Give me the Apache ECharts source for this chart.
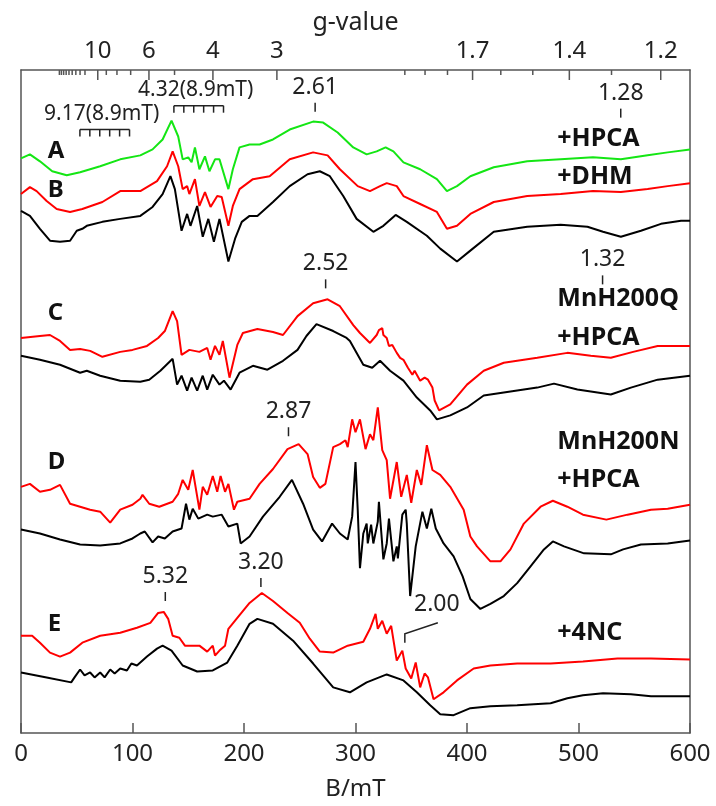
<!DOCTYPE html>
<html style="height: 100%">
<head>
<meta charset="utf-8">
<script type="text/javascript" src="https://cdn.jsdelivr.net/npm/echarts@6/dist/echarts.min.js"></script>
</head>
<body style="height: 100%; margin: 0; background: #fff">
<div id="container" style="width: 716px; height: 806px"></div>
<script type="text/javascript">
// hv/muB in mT, puts the g ticks where the spectrometer put them
var HV_MUB = 688.5;

var gMajor = [10, 6, 4, 3, 1.7, 1.4, 1.2];
var gMinor = [20, 19, 18, 17, 16, 15, 14, 13, 12, 9, 8, 7, 5, 2.0, 1.9, 1.8, 1.6, 1.5, 1.3];

// spectra, [B/mT, intensity + offset]
var specA_HPCA = [[0,579],[8,583],[17,576],[28,566],[41,562],[53,565],[71,571],[89,578],[107,582],[118,588],[127,598],[135,617],[141,601],[145,578],[150,580],[153,575],[156,590],[160,568],[165,581],[169,566],[174,578],[178,578],[186,548],[190,568],[196,590],[205,593],[214,593],[226,598],[241,608],[262,616],[271,615],[284,605],[298,590],[310,583],[319,586],[327,590],[334,586],[343,575],[358,568],[373,558],[382,546],[391,551],[403,561],[424,570],[454,576],[484,578],[513,580],[538,578],[562,582],[580,585],[600,588]];
var specB_DHM = [[0,543],[8,550],[14,546],[23,536],[32,528],[44,525],[55,528],[73,535],[89,546],[107,546],[122,556],[131,571],[136,586],[141,571],[145,548],[149,551],[151,543],[156,558],[160,531],[165,545],[170,530],[176,541],[180,540],[186,511],[190,531],[196,548],[208,558],[223,561],[241,578],[262,585],[275,582],[286,568],[302,551],[313,546],[322,551],[328,554],[337,551],[343,541],[358,533],[373,525],[382,508],[391,511],[403,523],[424,535],[454,541],[484,543],[513,546],[538,545],[562,548],[580,551],[600,554]];
var specAB_ref = [[0,526],[8,521],[17,508],[26,496],[35,495],[44,496],[50,506],[55,508],[59,511],[73,515],[89,518],[107,521],[118,530],[127,543],[134,561],[138,548],[144,506],[149,523],[152,511],[158,531],[163,500],[168,518],[173,495],[178,518],[186,475],[192,498],[198,515],[205,521],[212,521],[226,535],[241,551],[257,563],[268,566],[277,561],[289,541],[301,518],[316,505],[325,511],[336,522],[346,515],[364,501],[376,488],[391,475],[403,486],[424,505],[454,510],[484,512],[508,510],[522,505],[538,500],[556,506],[574,513],[592,516],[600,516]];
var specC_HPCA = [[0,398],[17,400],[26,401],[35,395],[44,386],[53,387],[62,385],[73,379],[89,384],[100,386],[113,390],[123,398],[129,405],[136,425],[140,415],[144,381],[151,386],[160,384],[167,388],[170,376],[174,390],[178,381],[181,395],[187,358],[194,391],[199,403],[212,407],[226,404],[235,401],[248,420],[262,433],[275,437],[286,430],[298,411],[304,403],[313,393],[319,401],[321,406],[324,408],[325,401],[328,398],[330,390],[333,391],[337,383],[340,378],[343,376],[347,368],[351,361],[353,365],[358,355],[362,358],[365,356],[369,348],[371,335],[375,325],[385,331],[400,351],[415,365],[433,373],[463,378],[490,383],[511,380],[529,378],[549,384],[571,390],[600,390]];
var specC_ref = [[0,380],[17,376],[35,371],[53,363],[59,365],[71,360],[89,355],[107,354],[115,356],[125,365],[136,377],[140,351],[144,360],[149,345],[153,358],[158,345],[163,360],[167,346],[172,361],[178,351],[182,355],[188,346],[196,363],[208,370],[221,366],[235,375],[248,386],[256,400],[265,412],[280,405],[292,398],[295,395],[307,371],[315,368],[322,375],[331,365],[343,355],[355,338],[367,325],[373,316],[385,320],[400,328],[415,340],[445,345],[463,348],[478,352],[499,346],[529,341],[547,348],[571,356],[600,360]];
var specD_HPCA = [[0,248],[8,251],[17,243],[26,245],[35,250],[44,231],[53,228],[62,225],[71,223],[80,212],[89,225],[100,230],[107,236],[109,240],[115,231],[124,228],[136,233],[141,241],[145,255],[150,245],[154,265],[160,225],[163,248],[167,240],[172,259],[176,243],[179,259],[183,243],[186,251],[191,225],[194,233],[205,236],[214,251],[226,266],[239,286],[249,291],[257,281],[262,258],[268,247],[273,251],[280,288],[286,291],[291,295],[293,288],[297,316],[300,303],[304,316],[309,286],[313,301],[316,295],[320,328],[324,285],[328,275],[331,236],[337,273],[341,238],[346,260],[350,232],[355,265],[359,250],[364,290],[369,265],[376,260],[385,248],[397,225],[403,198],[409,188],[421,173],[430,173],[439,185],[451,211],[466,228],[477,234],[490,228],[504,220],[525,215],[544,220],[565,225],[580,226],[600,230]];
var specD_ref = [[0,205],[17,201],[35,195],[53,190],[71,189],[89,191],[100,196],[107,201],[111,203],[118,192],[123,198],[129,196],[136,203],[144,206],[148,231],[151,215],[154,226],[159,216],[167,220],[172,218],[180,220],[186,208],[194,211],[197,191],[205,198],[217,218],[232,238],[243,255],[253,231],[262,205],[270,193],[279,211],[286,201],[293,195],[297,218],[300,273],[302,225],[304,166],[307,201],[310,211],[311,191],[314,210],[316,191],[320,213],[321,233],[325,175],[328,191],[330,216],[334,173],[337,188],[338,176],[342,220],[345,225],[346,211],[349,138],[354,188],[360,223],[364,206],[368,226],[372,206],[379,191],[388,178],[396,158],[403,135],[412,125],[421,130],[433,138],[445,151],[457,168],[469,185],[477,193],[487,188],[505,181],[529,180],[540,185],[556,190],[580,191],[600,194]];
var specE_4NC = [[0,98],[10,98],[17,91],[26,81],[35,77],[44,81],[55,91],[71,98],[89,101],[104,106],[116,111],[123,121],[128,122],[132,115],[136,98],[142,96],[147,88],[160,88],[167,82],[172,88],[174,78],[178,83],[183,88],[186,105],[194,116],[205,131],[216,141],[226,133],[239,121],[250,111],[259,95],[268,82],[280,81],[293,88],[307,92],[313,105],[318,120],[320,105],[324,113],[328,100],[332,108],[337,73],[342,83],[345,65],[350,55],[354,71],[358,46],[362,60],[365,56],[370,34],[379,41],[391,53],[406,65],[421,68],[445,70],[475,70],[504,72],[535,75],[565,75],[600,74]];
var specE_ref = [[0,61],[23,56],[45,51],[48,56],[53,64],[57,58],[62,61],[66,56],[71,61],[75,56],[80,64],[84,60],[89,65],[95,63],[99,70],[104,68],[113,77],[122,85],[127,88],[135,83],[145,68],[158,62],[172,63],[185,71],[194,88],[205,110],[212,115],[226,110],[244,93],[262,70],[280,46],[295,41],[310,51],[328,59],[343,53],[355,41],[367,28],[376,19],[388,18],[403,25],[421,27],[445,28],[475,30],[490,35],[504,38],[522,40],[547,39],[565,37],[600,37]];

// peak g values with the level of their marker
var peakG = ['2.61', '1.28', '2.52', '1.32', '2.87', '5.32', '3.20'];
var peakLevel = [626, 620, 448, 452, 299, 133, 147];

// hyperfine sextets: g, splitting (mT), level
var combG = ['9.17', '4.32'];
var combSplit = [8.9, 8.9];
var combLevel = [601, 625];

var panelLetters = ['A', 'B', 'C', 'D', 'E'];
var panelLetterLevel = [586, 547, 423, 273, 110];
var sampleNames = ['+HPCA', '+DHM', 'MnH200Q', '+HPCA', 'MnH200N', '+HPCA', '+4NC'];
var sampleLevel = [599, 560, 437, 398, 293, 255, 101];

var FONT = 'Noto Sans';
var AXIS = '#555';

var dom = document.getElementById('container');
var myChart = echarts.init(dom, null, {renderer: 'canvas'});

function lineSeries(name, data, color) {
    return {
        name: name, type: 'line', data: data, showSymbol: false, smooth: false,
        lineStyle: {color: color, width: 2}, silent: true, z: 3
    };
}

var gTicks = gMajor.map(function (g) { return [HV_MUB / g, 0, 1]; })
    .concat(gMinor.map(function (g) { return [HV_MUB / g, 0, 0]; }));

option = {
    animation: false,
    backgroundColor: '#fff',
    grid: {left: 21, right: 26, top: 70, bottom: 68},
    xAxis: [{
        type: 'value', min: 0, max: 600, interval: 100,
        name: 'B/mT', nameLocation: 'middle', nameGap: 44,
        nameTextStyle: {fontFamily: FONT, fontSize: 24, color: '#222'},
        axisLine: {lineStyle: {color: AXIS, width: 1.5}},
        axisTick: {inside: true, length: 10, lineStyle: {color: AXIS, width: 1.5}},
        axisLabel: {fontFamily: FONT, fontSize: 24, color: '#222', margin: 9},
        splitLine: {show: false}
    }, {
        type: 'value', min: 0, max: 600, position: 'top',
        name: 'g-value', nameLocation: 'middle', nameGap: 35,
        nameTextStyle: {fontFamily: FONT, fontSize: 25, color: '#222'},
        axisLine: {onZero: false, lineStyle: {color: AXIS, width: 1.5}},
        axisTick: {show: false}, axisLabel: {show: false}, splitLine: {show: false}
    }],
    yAxis: [{
        type: 'value', min: 0, max: 668,
        axisLine: {show: true, onZero: false, lineStyle: {color: AXIS, width: 1.5}},
        axisTick: {show: false}, axisLabel: {show: false}, splitLine: {show: false}
    }, {
        type: 'value', min: 0, max: 668, position: 'right',
        axisLine: {show: true, onZero: false, lineStyle: {color: AXIS, width: 1.5}},
        axisTick: {show: false}, axisLabel: {show: false}, splitLine: {show: false}
    }],
    series: [
        lineSeries('A +HPCA', specA_HPCA, '#14e614'),
        lineSeries('B +DHM', specB_DHM, '#ff0000'),
        lineSeries('A/B reference', specAB_ref, '#000'),
        lineSeries('C MnH200Q +HPCA', specC_HPCA, '#ff0000'),
        lineSeries('C MnH200Q', specC_ref, '#000'),
        lineSeries('D MnH200N +HPCA', specD_HPCA, '#ff0000'),
        lineSeries('D MnH200N', specD_ref, '#000'),
        lineSeries('E +4NC', specE_4NC, '#ff0000'),
        lineSeries('E reference', specE_ref, '#000'),
        {
            // g-value scale on the top frame
            type: 'custom', silent: true, clip: false, z: 5,
            data: gTicks,
            renderItem: function (params, api) {
                var x = api.coord([api.value(0), 0])[0];
                var top = params.coordSys.y;
                var major = api.value(2) === 1;
                var kids = [{
                    type: 'line',
                    shape: {x1: x, y1: top, x2: x, y2: top + (major ? 10 : 5)},
                    style: {stroke: AXIS, lineWidth: 1.5}
                }];
                if (major) {
                    kids.push({
                        type: 'text', x: x, y: top - 7,
                        style: {text: String(gMajor[params.dataIndex]), fontFamily: FONT, fontSize: 24,
                            fill: '#222', align: 'center', verticalAlign: 'bottom'}
                    });
                }
                return {type: 'group', children: kids};
            }
        },
        {
            // peak markers
            type: 'custom', silent: true, clip: false, z: 5,
            data: peakG.map(function (g, i) { return [HV_MUB / parseFloat(g), peakLevel[i]]; }),
            renderItem: function (params, api) {
                var p = api.coord([api.value(0), api.value(1)]);
                return {type: 'group', children: [{
                    type: 'line', shape: {x1: p[0], y1: p[1], x2: p[0], y2: p[1] - 9},
                    style: {stroke: '#222', lineWidth: 1.5}
                }, {
                    type: 'text', x: p[0], y: p[1] - 13,
                    style: {text: peakG[params.dataIndex], fontFamily: FONT, fontSize: 23,
                        fill: '#222', align: 'center', verticalAlign: 'bottom'}
                }]};
            }
        },
        {
            // g = 2.00 marker with leader line
            type: 'custom', silent: true, clip: false, z: 5,
            data: [[HV_MUB / 2.00, 91]],
            renderItem: function (params, api) {
                var p = api.coord([api.value(0), api.value(1)]);
                return {type: 'group', children: [{
                    type: 'polyline', shape: {points: [[p[0], p[1]], [p[0], p[1] - 9], [p[0] + 33, p[1] - 20]]},
                    style: {stroke: '#222', lineWidth: 1.5, fill: null}
                }, {
                    type: 'text', x: p[0] + 32, y: p[1] - 27,
                    style: {text: '2.00', fontFamily: FONT, fontSize: 23,
                        fill: '#222', align: 'center', verticalAlign: 'bottom'}
                }]};
            }
        },
        {
            // hyperfine sextets
            type: 'custom', silent: true, clip: false, z: 5,
            data: combG.map(function (g, i) { return [HV_MUB / parseFloat(g), combLevel[i], combSplit[i]]; }),
            renderItem: function (params, api) {
                var c = api.value(0), a = api.value(2), lv = api.value(1);
                var left = api.coord([c - 2.5 * a, lv]);
                var right = api.coord([c + 2.5 * a, lv]);
                var barY = left[1] - 7;
                var kids = [{
                    type: 'line', shape: {x1: left[0], y1: barY, x2: right[0], y2: barY},
                    style: {stroke: '#222', lineWidth: 1.5}
                }];
                for (var k = 0; k < 6; k++) {
                    var x = api.coord([c + (k - 2.5) * a, lv])[0];
                    kids.push({type: 'line', shape: {x1: x, y1: barY, x2: x, y2: left[1]},
                        style: {stroke: '#222', lineWidth: 1.5}});
                }
                kids.push({
                    type: 'text', x: (left[0] + right[0]) / 2 - 3, y: barY - 5,
                    style: {text: combG[params.dataIndex] + '(' + combSplit[params.dataIndex] + 'mT)',
                        fontFamily: FONT, fontSize: 21, fill: '#222', align: 'center', verticalAlign: 'bottom'}
                });
                return {type: 'group', children: kids};
            }
        },
        {
            // panel letters
            type: 'custom', silent: true, clip: false, z: 5,
            data: panelLetters.map(function (s, i) { return [24, panelLetterLevel[i]]; }),
            renderItem: function (params, api) {
                var p = api.coord([api.value(0), api.value(1)]);
                return {type: 'text', x: p[0], y: p[1],
                    style: {text: panelLetters[params.dataIndex], fontFamily: FONT, fontWeight: 'bold',
                        fontSize: 24, fill: '#111', align: 'left', verticalAlign: 'middle'}};
            }
        },
        {
            // sample names
            type: 'custom', silent: true, clip: false, z: 5,
            data: sampleNames.map(function (s, i) { return [481, sampleLevel[i]]; }),
            renderItem: function (params, api) {
                var p = api.coord([api.value(0), api.value(1)]);
                return {type: 'text', x: p[0], y: p[1],
                    style: {text: sampleNames[params.dataIndex], fontFamily: FONT, fontWeight: 'bold',
                        fontSize: 25, fill: '#111', align: 'left', verticalAlign: 'middle'}};
            }
        }
    ]
};

if (option && typeof option === 'object') {
    myChart.setOption(option, true);
}
</script>
</body>
</html>
